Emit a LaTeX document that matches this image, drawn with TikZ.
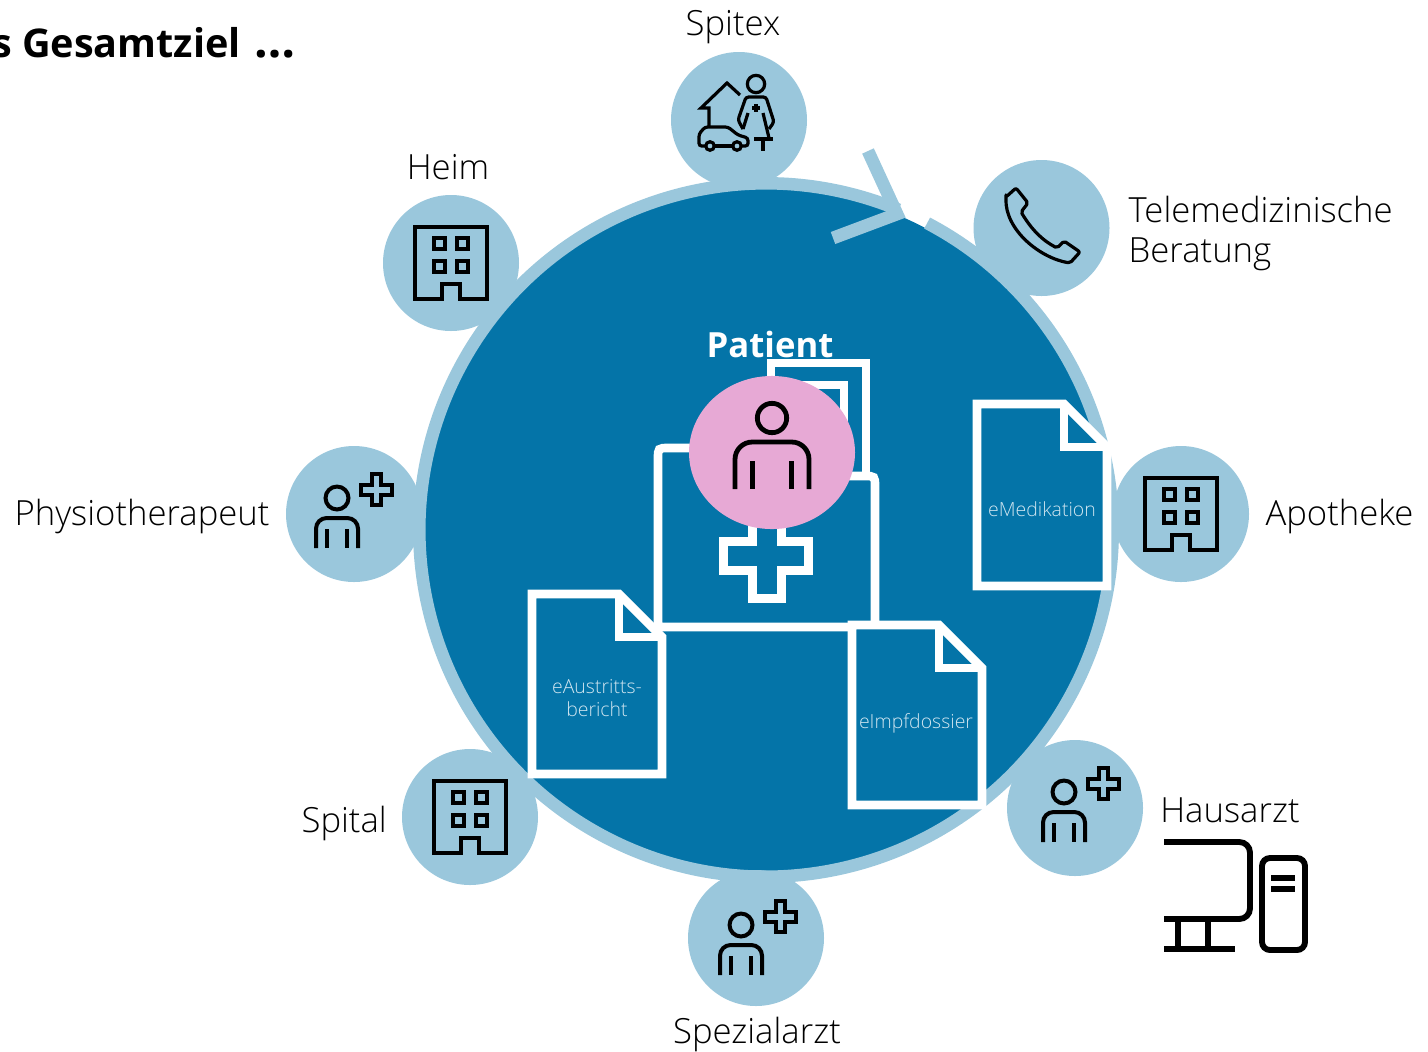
\documentclass[tikz,border=0pt]{standalone}
\usepackage{fontspec}
\setmainfont{Open Sans Light}
\newfontfamily\boldface{Open Sans Bold}
\usetikzlibrary{positioning}
\definecolor{ringblue}{HTML}{9AC7DC}
\definecolor{diskblue}{HTML}{0474A8}
\definecolor{patientpink}{HTML}{E7A9D5}
\definecolor{doctext}{HTML}{CFE5F0}
\tikzset{
  satellite/.style={circle, fill=ringblue, minimum size=102pt, inner sep=0pt},
  labeltext/.style={inner sep=0pt, font=\fontsize{26}{30.5}\selectfont, align=left},
  doctitle/.style={inner sep=0pt, text=doctext, align=center, font=\fontsize{14.6}{18}\selectfont},
  whiteline/.style={draw=white, line width=6.5pt},
  iconline/.style={draw=black, line width=3pt},
  thinicon/.style={draw=black, line width=2.4pt},
  pics/buildingicon/.style={code={
    \draw[iconline] (-36,36) -- (-36,-36) -- (36,-36) -- (36,36) -- (9,36) -- (9,21) -- (-9,21) -- (-9,36) -- cycle;
    \foreach \wx in {-11.5,11.5} {
      \foreach \wy in {-19.5,3.5} {
        \draw[iconline] (\wx-5.5,\wy-5.5) rectangle (\wx+5.5,\wy+5.5);
      }
    }
  }},
  pics/doctoricon/.style={code={
    \draw[iconline] (0,0) circle[radius=8.6pt];
    \draw[iconline, rounded corners=8pt] (-21,50) -- (-21,20) -- (21,20) -- (21,50);
    \draw[iconline] (-10,31) -- (-10,50) (10,31) -- (10,50);
    \draw[iconline] (24,-13) -- (35,-13) -- (35,-24) -- (44,-24) -- (44,-13) -- (55,-13) -- (55,-3) -- (44,-3) -- (44,7) -- (35,7) -- (35,-3) -- (24,-3) -- cycle;
  }},
  pics/docicon/.style={code={
    \draw[whiteline, fill=diskblue, miter limit=4] (0,0) -- (87,0) -- (130,43) -- (130,#1) -- (0,#1) -- cycle;
    \draw[whiteline] (87,0) -- (87,43) -- (130,43);
  }}
}
\begin{document}
\begin{tikzpicture}[x=0.75pt, y=-0.75pt]
\useasboundingbox (0,0) rectangle (1428,1051);
\clip (0,0) rectangle (1428,1051);

\coordinate (centre) at (766,530);
\fill[diskblue] (centre) circle[radius=256pt];
\draw[ringblue, line width=9.4pt] (centre) ++(62.3:260pt) arc[start angle=62.3, end angle=-292.5, radius=260pt];
\draw[ringblue, line width=9.6pt, miter limit=6] (868,151) -- (897,214) -- (833,238);

\foreach \name/\cx/\cy in {spitex/739/120, tele/1041.5/228, apotheke/1181/514, hausarzt/1075/808,
  spezial/756/938, spital/470/817, physio/354/514, heim/451/263} {
  \node[satellite] (\name) at (\cx,\cy) {};
}

% Icons
\pic at (heim) {buildingicon};
\pic at (apotheke) {buildingicon};
\pic at (spital) {buildingicon};
\pic at (337,498) {doctoricon};
\pic at (1064,792) {doctoricon};
\pic at (741,925) {doctoricon};

\draw[thinicon, line join=round, rounded corners=1.5pt] (1006,197) -- (1016,188) -- (1028,203) -- (1021,212)
  .. controls (1032,230) and (1042,240) .. (1057,248) -- (1064,241) -- (1080,252) -- (1070,263)
  .. controls (1040,258) and (1005,230) .. (1006,197) -- cycle;

% Spitex icon
\draw[thinicon] (740,95) -- (727,83) -- (701,108) -- (709,108) -- (709,127);
\draw[thinicon, rounded corners=2pt] (706,146) -- (699,146) -- (699,134) -- (705,127) -- (728,127) -- (738,135) -- (748,138) -- (748,146) -- (741,146);
\draw[thinicon] (714,146) -- (733,146);
\draw[thinicon] (710,146) circle[radius=3.2pt] (737,146) circle[radius=3.2pt];
\draw[thinicon] (756,84) circle[radius=6.5pt];
\draw[thinicon, rounded corners=2pt] (743,129) -- (738,120) -- (746,97) -- (766,97) -- (774,122) -- (769,129);
\draw[thinicon] (748,113) -- (743,129) (763,113) -- (769,138);
\draw[thinicon] (754,139) -- (773,139) (763,139) -- (763,151);
\draw[thinicon] (752,108) -- (760,108) (756,104) -- (756,112);

% Computer
\draw[draw=black, line width=4.4pt, rounded corners=8pt] (1164,842) -- (1250,842) -- (1250,919) -- (1164,919);
\draw[draw=black, line width=4.4pt] (1178,919) -- (1178,949) (1208,919) -- (1208,949) (1164,949) -- (1235,949);
\draw[draw=black, line width=4.4pt, rounded corners=6pt] (1262,858) rectangle (1305,950);
\draw[draw=black, line width=4pt] (1271,878) -- (1295,878) (1271,889) -- (1295,889);

% Briefcase
\draw[whiteline, line width=5.5pt] (771,420) -- (771,363) -- (866,363) -- (866,480);
\draw[whiteline, line width=5.5pt] (790,385) -- (844,385) -- (844,435);
\draw[whiteline] (710,448) -- (669,448) .. controls (658,448) .. (658,459) -- (658,627) -- (875,627)
  -- (875,487) .. controls (875,476) .. (864,476) -- (830,476);
\draw[whiteline] (752.5,510) -- (752.5,541.5) -- (723.5,541.5) -- (723.5,570.5) -- (752.5,570.5) -- (752.5,598.5)
  -- (781.5,598.5) -- (781.5,570.5) -- (808.5,570.5) -- (808.5,541.5) -- (781.5,541.5) -- (781.5,510);

% Documents
\pic at (532,594) {docicon=180};
\pic at (852,625) {docicon=180};
\pic at (977,404) {docicon=182};
\node[doctitle] (austritt) at (597,698) {eAustritts-\\[-1pt]bericht};
\node[doctitle] (impf) at (916,723) {eImpfdossier};
\node[doctitle] (medikation) at (1042,509) {eMedikation};

% Patient
\fill[patientpink] (772,452.5) ellipse[x radius=62.25pt, y radius=57.4pt];
\draw[draw=black, line width=3.6pt] (772,418) circle[radius=11pt];
\draw[draw=black, line width=3.6pt, rounded corners=13pt] (735,489) -- (735,442) -- (809,442) -- (809,489);
\draw[draw=black, line width=3.6pt] (752.5,461) -- (752.5,489) (791.5,461) -- (791.5,489);
\node[inner sep=0pt, text=white, font=\boldface\fontsize{26}{30}\selectfont] (patient) at (770,344) {Patient};

% Labels
\node[labeltext, anchor=center] (spitexlabel) at (733,27) {Spitex};
\node[labeltext, anchor=center] (heimlabel) at (448,167) {Heim};
\node[labeltext, right=14pt of tele, yshift=-4pt] (telelabel) {Telemedizinische\\Beratung};
\node[labeltext, right=12pt of apotheke, yshift=-2pt] (apothekelabel) {Apotheke};
\node[labeltext, left=12pt of physio, yshift=-1.5pt] (physiolabel) {Physiotherapeut};
\node[labeltext, anchor=west] (hausarztlabel) at (1160,810) {Hausarzt};
\node[labeltext, left=11pt of spital, yshift=-5pt] (spitallabel) {Spital};
\node[labeltext, anchor=center] (speziallabel) at (757,1034) {Spezialarzt};
\node[inner sep=0pt, anchor=east, font=\boldface\fontsize{29.7}{36}\selectfont] (ziel) at (296,43) {s Gesamtziel\hspace{10.5pt}{\fontsize{36}{36}\selectfont …}};
\end{tikzpicture}
\end{document}
